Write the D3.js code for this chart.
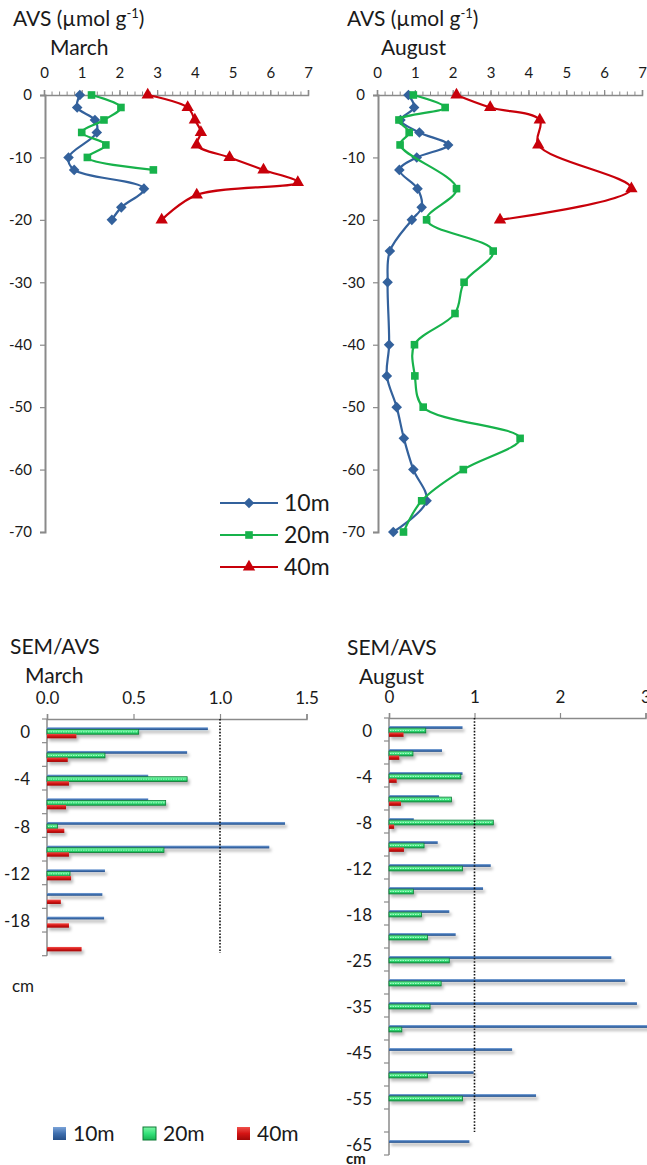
<!DOCTYPE html>
<html>
<head>
<meta charset="utf-8">
<script src="https://cdn.jsdelivr.net/npm/d3@7"></script>
<style>
  body { margin: 0; background: #fff; }
  svg text { font-family: Lato, "Open Sans", sans-serif; fill: #1a1a1a; }
</style>
</head>
<body>
<svg id="fig" width="647" height="1165"></svg>
<script>
// AVS depth profiles (depth in cm, AVS in umol/g)
const marchDepth10 = [0, -2, -4, -6, -10, -12, -15, -18, -20];
const marchAvs10   = [0.95, 0.88, 1.35, 1.4, 0.65, 0.8, 2.65, 2.05, 1.8];
const marchDepth20 = [0, -2, -4, -6, -8, -10, -12];
const marchAvs20   = [1.26, 2.04, 1.59, 1.0, 1.64, 1.15, 2.9];
const marchDepth40 = [0, -2, -4, -6, -8, -10, -12, -14, -16, -20];
const marchAvs40   = [2.75, 3.81, 4.0, 4.16, 4.05, 4.92, 5.82, 6.73, 4.05, 3.12];

const augDepth10 = [0, -2, -4, -6, -8, -10, -12, -15, -18, -20, -25, -30, -40, -45, -50, -55, -60, -65, -70];
const augAvs10   = [0.83, 0.98, 0.62, 1.12, 1.88, 1.05, 0.59, 1.07, 1.18, 0.92, 0.34, 0.28, 0.32, 0.26, 0.52, 0.71, 0.96, 1.31, 0.43];
const augDepth20 = [0, -2, -4, -6, -8, -15, -20, -25, -30, -35, -40, -45, -50, -55, -60, -65, -70];
const augAvs20   = [0.96, 1.8, 0.58, 0.85, 0.61, 2.1, 1.31, 3.07, 2.3, 2.06, 0.99, 1.0, 1.22, 3.78, 2.28, 1.18, 0.7];
const augDepth40 = [0, -2, -4, -8, -15, -20];
const augAvs40   = [2.1, 2.99, 4.3, 4.26, 6.72, 3.25];

const avsTicks   = [0, 1, 2, 3, 4, 5, 6, 7];
const depthTicks = [0, -10, -20, -30, -40, -50, -60, -70];
const stations   = ["10m", "20m", "40m"];

// SEM/AVS ratios per depth layer
const semMarchDepths = ["0", "-2", "-4", "-6", "-8", "-10", "-12", "-15", "-18", "-20"];
const semMarch10 = [0.93, 0.81, 0.585, 0.585, 1.376, 1.285, 0.335, 0.32, 0.33, null];
const semMarch20 = [0.53, 0.335, 0.81, 0.686, 0.06, 0.676, 0.133, null, null, null];
const semMarch40 = [0.17, 0.12, 0.127, 0.11, 0.1, 0.127, 0.139, 0.08, 0.127, 0.2];
const semMarchLabels = ["0", "-4", "-8", "-12", "-18"];
const semMarchTicks  = [0, 0.5, 1.0, 1.5];

const semAugDepths = ["0", "-2", "-4", "-6", "-8", "-10", "-12", "-15", "-18", "-20", "-25", "-30", "-35", "-40", "-45", "-50", "-55", "-60", "-65"];
const semAug10 = [0.86, 0.62, 0.86, 0.585, 0.29, 0.57, 1.19, 1.10, 0.705, 0.78, 2.6, 2.76, 2.9, 3.1, 1.44, 0.99, 1.72, null, 0.94];
const semAug20 = [0.43, 0.28, 0.84, 0.73, 1.22, 0.41, 0.86, 0.285, 0.38, 0.45, 0.705, 0.61, 0.48, 0.15, null, 0.45, 0.86, null, null];
const semAug40 = [0.17, 0.12, 0.09, 0.14, 0.06, 0.175, null, null, null, null, null, null, null, null, null, null, null, null, null];
const semAugLabels = ["0", "-4", "-8", "-12", "-18", "-25", "-35", "-45", "-55", "-65"];
const semAugTicks  = [0, 1, 2, 3];

const lineColor = { "10m": "#33619c", "20m": "#17b24b", "40m": "#c8000a" };
const axisGray  = "#8a8a8a";
const plainInt  = d => String(d);   // keep ASCII hyphen like the original

const svg  = d3.select("#fig");
const defs = svg.append("defs");

// bar fills
function vGrad(id, stops) {
  const g = defs.append("linearGradient").attr("id", id)
    .attr("x1", 0).attr("y1", 0).attr("x2", 0).attr("y2", 1);
  stops.forEach(([o, c]) => g.append("stop").attr("offset", o).attr("stop-color", c));
}
vGrad("gBlue",  [[0, "#7aa3d8"], [0.5, "#3f6fae"], [1, "#254f88"]]);
vGrad("gGreen", [[0, "#7ff5a6"], [0.5, "#34e27a"], [1, "#17b352"]]);
vGrad("gRed",   [[0, "#f0504a"], [0.5, "#d41414"], [1, "#a00808"]]);

defs.append("filter").attr("id", "shadow")
  .attr("x", "-5%").attr("y", "-50%").attr("width", "115%").attr("height", "300%")
  .append("feDropShadow")
  .attr("dx", 2).attr("dy", 3).attr("stdDeviation", 1.8)
  .attr("flood-color", "#000").attr("flood-opacity", 0.28);

// ---------- AVS profile panels ----------
function drawProfile(cfg) {
  const x = d3.scaleLinear().domain([0, 7]).range([cfg.x0, cfg.x1]);
  const y = d3.scaleLinear().domain([-70, 0]).range([532, 95]);
  const g = svg.append("g");

  // minor ticks on the top axis
  g.append("g").attr("transform", `translate(0,${y(0)})`)
    .call(d3.axisTop(x).tickValues(d3.range(0, 7.001, 0.2)).tickSize(3.5).tickFormat(""))
    .call(a => a.select(".domain").remove())
    .call(a => a.selectAll("line").attr("stroke", axisGray));

  g.append("g").attr("transform", `translate(0,${y(0)})`)
    .call(d3.axisTop(x).tickValues(avsTicks).tickSize(5).tickPadding(12).tickFormat(plainInt))
    .call(a => a.select(".domain").attr("stroke", axisGray).attr("stroke-width", 1.5))
    .call(a => a.selectAll("line").attr("stroke", axisGray).attr("stroke-width", 1.2))
    .call(a => a.selectAll("text").attr("font-size", 15).attr("font-family", "Lato").attr("fill", "#222"));

  g.append("g").attr("transform", `translate(${x(0) + 1},0)`)
    .call(d3.axisLeft(y).tickValues(depthTicks).tickSize(5).tickPadding(8).tickFormat(plainInt))
    .call(a => a.select(".domain").attr("stroke", axisGray).attr("stroke-width", 2))
    .call(a => a.selectAll("line").attr("stroke", axisGray).attr("stroke-width", 1.2))
    .call(a => a.selectAll("text").attr("font-size", 15).attr("font-family", "Lato").attr("fill", "#222"));

  const t = g.append("text").attr("x", cfg.titleX).attr("y", 26).attr("font-size", 21);
  t.append("tspan").text("AVS (µmol g");
  t.append("tspan").attr("font-size", 13).attr("dy", -8).text("-1");
  t.append("tspan").attr("dy", 8).text(")");
  g.append("text").attr("x", cfg.monthX).attr("y", 55).attr("font-size", 21).text(cfg.month);

  const line = d3.line()
    .x(d => x(d[1])).y(d => y(d[0]))
    .curve(d3.curveCatmullRom.alpha(0.5));

  cfg.series.forEach(s => {
    const pts = d3.zip(s.depth, s.avs);
    g.append("path").datum(pts)
      .attr("d", line)
      .attr("fill", "none")
      .attr("stroke", lineColor[s.name])
      .attr("stroke-width", 2.2);
    g.selectAll(null).data(pts).enter()
      .append("path")
      .attr("d", markerPath(s.name))
      .attr("transform", d => `translate(${x(d[1])},${y(d[0])})` + (s.name === "10m" ? " rotate(45)" : ""))
      .attr("fill", lineColor[s.name]);
  });
}

function markerPath(name) {
  if (name === "10m") return d3.symbol().type(d3.symbolSquare).size(56)();
  if (name === "20m") return d3.symbol().type(d3.symbolSquare).size(58)();
  return d3.symbol().type(d3.symbolTriangle).size(66)();
}

drawProfile({
  x0: 44, x1: 308, titleX: 13, monthX: 50, month: "March",
  series: [
    { name: "10m", depth: marchDepth10, avs: marchAvs10 },
    { name: "20m", depth: marchDepth20, avs: marchAvs20 },
    { name: "40m", depth: marchDepth40, avs: marchAvs40 }
  ]
});
drawProfile({
  x0: 377, x1: 642, titleX: 347, monthX: 381, month: "August",
  series: [
    { name: "10m", depth: augDepth10, avs: augAvs10 },
    { name: "20m", depth: augDepth20, avs: augAvs20 },
    { name: "40m", depth: augDepth40, avs: augAvs40 }
  ]
});

// line legend
const leg1 = svg.append("g");
stations.forEach((s, i) => {
  const ly = 503 + i * 32;
  leg1.append("line").attr("x1", 220).attr("x2", 278).attr("y1", ly).attr("y2", ly)
    .attr("stroke", lineColor[s]).attr("stroke-width", 2.2);
  leg1.append("path").attr("d", markerPath(s))
    .attr("transform", `translate(249,${ly})` + (s === "10m" ? " rotate(45)" : ""))
    .attr("fill", lineColor[s]);
  leg1.append("text").attr("x", 284).attr("y", ly + 8).attr("font-size", 23).text(s);
});

// ---------- SEM/AVS bar panels ----------
const barStyle = {
  "10m": { fill: "url(#gBlue)",  off: 0.35, h: 2.8 },
  "20m": { fill: "url(#gGreen)", off: 0.44, h: 4.8 },
  "40m": { fill: "url(#gRed)",   off: 0.63, h: 4.4 }
};

function drawSem(cfg) {
  const x = d3.scaleLinear().domain(cfg.domain).range([cfg.x0, cfg.x1]);
  const yb = d3.scaleBand().domain(cfg.cats).range([cfg.yTop, cfg.yBot]).padding(0);
  const bw = yb.step();
  const g = svg.append("g");

  g.append("text").attr("x", cfg.titleX).attr("y", cfg.titleY).attr("font-size", 21).text("SEM/AVS");
  g.append("text").attr("x", cfg.monthX).attr("y", cfg.titleY + 29).attr("font-size", 21).text(cfg.month);

  g.append("g").attr("transform", `translate(0,${cfg.yTop})`)
    .call(d3.axisTop(x).tickValues(cfg.ticks).tickSize(5).tickPadding(10).tickFormat(cfg.fmt))
    .call(a => a.select(".domain").attr("stroke", axisGray).attr("stroke-width", 1.5))
    .call(a => a.selectAll("line").attr("stroke", axisGray).attr("stroke-width", 1.2))
    .call(a => a.selectAll("text").attr("font-size", 17).attr("font-family", "Lato").attr("fill", "#222"));

  // depth axis: ticks at category boundaries
  g.append("line").attr("x1", x(0)).attr("x2", x(0))
    .attr("y1", cfg.yTop).attr("y2", cfg.yBot)
    .attr("stroke", axisGray).attr("stroke-width", 1.5);
  g.selectAll(null).data(cfg.cats.map(c => yb(c)).concat([cfg.yBot])).enter()
    .append("line")
    .attr("x1", x(0) - 5).attr("x2", x(0))
    .attr("y1", d => d).attr("y2", d => d)
    .attr("stroke", axisGray).attr("stroke-width", 1.2);
  g.selectAll(null).data(cfg.labels).enter()
    .append("text")
    .attr("x", x(0) - 17)
    .attr("y", d => yb(d) + bw / 2 + 7)
    .attr("text-anchor", "end")
    .attr("font-size", 17)
    .text(d => d);

  const bars = g.append("g").attr("filter", "url(#shadow)");
  cfg.series.forEach(s => {
    const st = barStyle[s.name];
    const rows = cfg.cats.map((c, i) => ({ c, v: s.vals[i] })).filter(d => d.v != null);
    bars.selectAll(null).data(rows).enter()
      .append("rect")
      .attr("x", x(0))
      .attr("y", d => yb(d.c) + st.off * bw)
      .attr("width", d => x(d.v) - x(0))
      .attr("height", st.h)
      .attr("fill", st.fill)
      .attr("stroke", s.name === "20m" ? "#0d7a35" : "none")
      .attr("stroke-width", 0.8);
    if (s.name === "20m") {
      bars.selectAll(null).data(rows).enter()
        .append("line")
        .attr("x1", x(0) + 1)
        .attr("x2", d => x(d.v) - 1)
        .attr("y1", d => yb(d.c) + st.off * bw + st.h / 2)
        .attr("y2", d => yb(d.c) + st.off * bw + st.h / 2)
        .attr("stroke", "#c9ffd9")
        .attr("stroke-width", 0.8)
        .attr("stroke-dasharray", "1.5,1");
    }
  });

  // threshold SEM/AVS = 1
  g.append("line").attr("x1", x(1)).attr("x2", x(1))
    .attr("y1", cfg.yTop).attr("y2", cfg.dotBot)
    .attr("stroke", "#111").attr("stroke-width", 1.6)
    .attr("stroke-dasharray", "1.6,1.6");

  g.append("text").attr("x", cfg.cmX).attr("y", cfg.cmY).attr("font-size", cfg.cmSize)
    .attr("font-weight", cfg.cmBold ? "bold" : "normal").text("cm");
}

drawSem({
  domain: [0, 1.5], x0: 47, x1: 306.5, yTop: 719, yBot: 955.7, dotBot: 953,
  cats: semMarchDepths, labels: semMarchLabels, ticks: semMarchTicks, fmt: d3.format(".1f"),
  titleX: 10, titleY: 654, monthX: 25, month: "March", cmX: 12, cmY: 992, cmSize: 17,
  series: [
    { name: "10m", vals: semMarch10 },
    { name: "20m", vals: semMarch20 },
    { name: "40m", vals: semMarch40 }
  ]
});
drawSem({
  domain: [0, 3], x0: 389, x1: 645.5, yTop: 718, yBot: 1155, dotBot: 1132,
  cats: semAugDepths, labels: semAugLabels, ticks: semAugTicks, fmt: plainInt,
  titleX: 347, titleY: 655, monthX: 359, month: "August", cmX: 346, cmY: 1164, cmSize: 15, cmBold: true,
  series: [
    { name: "10m", vals: semAug10 },
    { name: "20m", vals: semAug20 },
    { name: "40m", vals: semAug40 }
  ]
});

// bar legend
const legFill = { "10m": "url(#gBlue)", "20m": "url(#gGreen)", "40m": "url(#gRed)" };
const legX = [53, 143, 237];
const leg2 = svg.append("g");
stations.forEach((s, i) => {
  leg2.append("rect").attr("x", legX[i]).attr("y", 1127).attr("width", 13).attr("height", 13)
    .attr("fill", legFill[s])
    .attr("stroke", s === "20m" ? "#0d7a35" : "none");
  leg2.append("text").attr("x", legX[i] + 20).attr("y", 1141).attr("font-size", 21).text(s);
});
</script>
</body>
</html>
